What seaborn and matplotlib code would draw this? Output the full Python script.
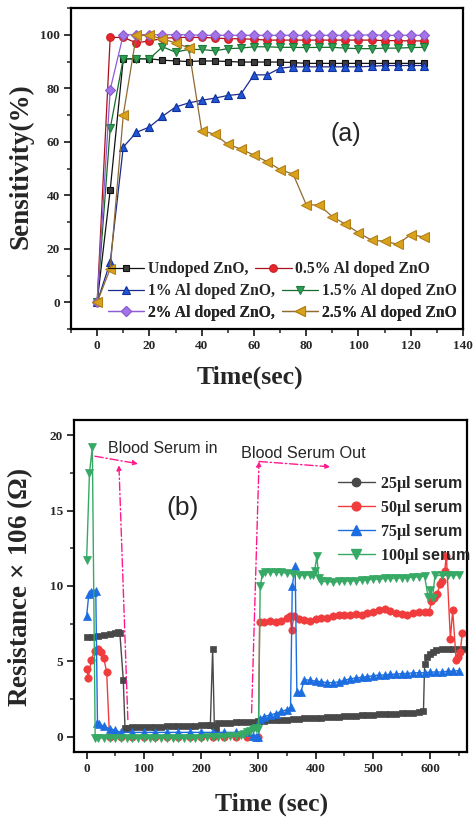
import matplotlib
matplotlib.use("Agg")
import matplotlib.pyplot as plt
from matplotlib.lines import Line2D
from matplotlib.ticker import MultipleLocator
from matplotlib.font_manager import FontProperties
import pandas as pd
import seaborn as sns

sns.set_style("ticks")
plt.rcParams["font.family"] = ["Liberation Serif", "DejaVu Serif"]
plt.rcParams["font.weight"] = "bold"
plt.rcParams["mathtext.fontset"] = "custom"
plt.rcParams["mathtext.rm"] = "Liberation Serif"
plt.rcParams["mathtext.it"] = "Liberation Serif:italic"
plt.rcParams["mathtext.bf"] = "Liberation Serif:bold"
plt.rcParams["mathtext.sf"] = "Liberation Sans:bold"

# ---------------- (a) sensitivity vs time ----------------
time_a = [0, 5, 10, 15, 20, 25, 30, 35, 40, 45, 50, 55, 60, 65, 70, 75, 80,
          85, 90, 95, 100, 105, 110, 115, 120, 125]
undoped = [0, 42, 91, 91, 91, 90.5, 90.2, 90, 90.2, 90.2, 90, 89.8, 89.8, 89.8,
           89.8, 89.6, 89.3, 89.3, 89.3, 89.3, 89.3, 89.3, 89.3, 89.3, 89.3, 89.3]
al_05 = [0, 99, 99, 97, 97.7, 98.6, 99, 99, 99, 98.8, 98.5, 98.5, 98.3, 98, 98,
         98, 98, 98, 98, 98, 98, 98, 97.8, 97.8, 97.7, 97.7]
al_10 = [0, 15, 58, 63.5, 65.5, 69.5, 73, 74.5, 75.5, 76.3, 77.3, 77.8, 85, 85,
         87.5, 88, 88, 88, 88, 88, 88, 88.2, 88.5, 88.5, 88.5, 88.5]
al_15 = [0, 65, 91, 91, 91, 95.5, 93.5, 94.5, 94.5, 94, 94.8, 95, 95.5, 95.5,
         95.3, 95.3, 95.2, 95.3, 95.3, 95, 94.8, 94.8, 95, 95, 95.2, 95.3]
al_20 = [0, 79.5, 100, 100, 100, 100, 100, 100, 99.8, 99.8, 99.8, 99.8, 99.8,
         99.8, 99.8, 99.8, 99.8, 99.8, 99.8, 99.8, 99.8, 100, 99.8, 99.8, 99.8, 99.8]
al_25 = [0, 12.5, 70, 99.8, 99.8, 98.4, 97, 95.1, 64.2, 62.8, 59, 57.3, 55, 52.6,
         49.6, 47.9, 36.5, 36.3, 32, 29.2, 26, 23.2, 22.8, 21.7, 25.3, 24.4]
labels_a = ["Undoped ZnO,", "0.5% Al doped ZnO", "1% Al doped ZnO,",
            "1.5% Al doped ZnO", "2% Al doped ZnO,", "2.5% Al doped ZnO"]

# ---------------- (b) resistance vs time ----------------
t_25 = [0, 10, 20, 30, 40, 50, 55, 58, 64, 67, 70, 80, 90, 100, 110, 120, 130,
        140, 150, 160, 170, 180, 190, 200, 210, 216, 220, 223, 226, 230, 240,
        250, 260, 270, 280, 290, 300, 310, 320, 330, 340, 350, 360, 370, 380,
        390, 400, 410, 420, 430, 440, 450, 460, 470, 480, 490, 500, 510, 520,
        530, 540, 550, 560, 570, 580, 588, 590, 595, 600, 605, 610, 620, 630,
        640, 650, 657]
r_25 = [6.6, 6.65, 6.7, 6.75, 6.8, 6.9, 6.95, 6.9, 3.8, 0.6, 0.62, 0.63, 0.64,
        0.65, 0.66, 0.67, 0.68, 0.69, 0.7, 0.71, 0.72, 0.73, 0.74, 0.76, 0.78,
        0.8, 5.8, 0.7, 0.5, 0.9, 0.92, 0.94, 0.96, 0.98, 1.0, 1.02, 1.05, 1.07,
        1.09, 1.11, 1.13, 1.15, 1.17, 1.2, 1.22, 1.24, 1.26, 1.28, 1.3, 1.32,
        1.34, 1.36, 1.38, 1.4, 1.42, 1.45, 1.47, 1.49, 1.51, 1.53, 1.55, 1.57,
        1.59, 1.61, 1.63, 1.7, 4.8, 5.3, 5.5, 5.65, 5.75, 5.85, 5.85, 5.8, 5.8,
        5.8]
t_50 = [0, 3, 8, 14, 20, 25, 30, 35, 40, 60, 80, 100, 120, 140, 160, 180, 200,
        220, 240, 260, 280, 300, 302, 310, 320, 330, 340, 350, 355, 358, 362,
        370, 380, 390, 400, 410, 420, 430, 440, 450, 460, 470, 480, 490, 500,
        510, 520, 530, 540, 550, 560, 570, 580, 590, 598, 602, 607, 612, 617,
        621, 625, 628, 635, 639, 645, 648, 652, 656]
r_50 = [4.5, 3.9, 5.1, 5.7, 5.8, 5.6, 5.2, 4.3, 0.0, 0.0, 0.0, 0.0, 0.0, 0.0,
        0.0, 0.0, 0.0, 0.0, 0.0, 0.0, 0.0, 0.0, 7.6, 7.6, 7.65, 7.6, 7.7, 7.9,
        8.0, 7.1, 8.0, 7.8, 7.75, 7.7, 7.8, 7.85, 7.9, 8.0, 8.05, 8.1, 8.1,
        8.15, 8.1, 8.2, 8.3, 8.4, 8.45, 8.35, 8.2, 8.15, 8.1, 8.2, 8.25, 8.3,
        8.3, 9.0, 9.2, 9.5, 10.1, 10.3, 11.0, 12.0, 6.5, 8.4, 5.1, 5.3, 5.6, 6.9]
t_75 = [0, 4, 8, 12, 16, 19, 22, 30, 40, 50, 60, 80, 100, 120, 140, 160, 180,
        200, 220, 240, 260, 280, 290, 295, 300, 302, 310, 320, 330, 340, 350,
        356, 359, 364, 367, 374, 380, 390, 400, 410, 420, 430, 440, 450, 460,
        470, 480, 490, 500, 510, 520, 530, 540, 550, 560, 570, 580, 590, 600,
        610, 620, 630, 640, 650]
r_75 = [8.0, 9.5, 9.6, 9.6, 9.7, 0.9, 0.85, 0.7, 0.55, 0.45, 0.3, 0.3, 0.3,
        0.3, 0.3, 0.3, 0.3, 0.3, 0.3, 0.3, 0.3, 0.3, 0.05, 0.0, 0.0, 1.2, 1.35,
        1.45, 1.55, 1.7, 1.8, 1.95, 10.0, 11.3, 3.0, 2.95, 3.8, 3.75, 3.7, 3.65,
        3.6, 3.6, 3.65, 3.75, 3.85, 3.9, 3.95, 4.0, 4.05, 4.1, 4.1, 4.15, 4.15,
        4.2, 4.2, 4.25, 4.25, 4.25, 4.3, 4.3, 4.3, 4.35, 4.35, 4.4]
t_100 = [0, 5, 10, 15, 20, 30, 40, 50, 60, 70, 80, 90, 100, 110, 120, 130, 140,
         150, 160, 170, 180, 190, 200, 210, 220, 230, 240, 250, 260, 270, 275,
         280, 285, 290, 295, 300, 303, 307, 312, 320, 330, 340, 350, 360, 370,
         380, 390, 395, 398, 402, 405, 410, 420, 430, 440, 450, 460, 470, 480,
         490, 500, 510, 520, 530, 540, 550, 560, 570, 580, 590, 596, 600, 604,
         608, 620, 630, 640, 650]
r_100 = [11.7, 17.5, 19.2, -0.1, -0.1, -0.05, -0.1, -0.05, -0.1, -0.05, -0.1,
         -0.1, -0.05, -0.1, -0.05, -0.1, -0.05, -0.1, -0.05, -0.1, -0.05, -0.05,
         -0.05, 0.0, 0.0, 0.0, 0.0, 0.05, 0.05, 0.1, 0.2, 0.3, 0.4, 0.55, 0.6,
         0.5, 10.0, 10.8, 10.9, 10.95, 10.9, 10.9, 10.85, 10.8, 10.75, 10.7,
         10.75, 10.7, 11.0, 12.0, 10.5, 10.3, 10.3, 10.25, 10.3, 10.3, 10.35,
         10.35, 10.4, 10.4, 10.45, 10.45, 10.5, 10.5, 10.5, 10.55, 10.55, 10.6,
         10.6, 10.65, 9.3, 9.75, 9.2, 10.7, 10.7, 10.7, 10.7, 10.75]
labels_b = ["25µl $\\mathsf{serum}$", "50µl $\\mathsf{serum}$",
            "75µl $\\mathsf{serum}$", "100µl $\\mathsf{serum}$"]

fig = plt.figure(figsize=(4.76, 8.18), dpi=100)
ax_a = fig.add_axes([71 / 476, 1 - 329 / 818, 392 / 476, 321 / 818])
ax_b = fig.add_axes([74 / 476, 1 - 752 / 818, 393 / 476, 332 / 818])

styles_a = [
    dict(marker="s", ms=5, mfc="#3c3c3c", mec="#111111", color="#111111"),
    dict(marker="o", ms=5.5, mfc="#e8262b", mec="#c81e24", color="#a8101a"),
    dict(marker="^", ms=6, mfc="#1f56d6", mec="#12309a", color="#1b2a8c"),
    dict(marker="v", ms=6, mfc="#2f9e52", mec="#1f7a3c", color="#146b2c"),
    dict(marker="D", ms=5.2, mfc="#a374e8", mec="#8a5ad0", color="#8e5bd6"),
    dict(marker="<", ms=6.5, mfc="#d9a21c", mec="#b38016", color="#8f6a33"),
]
series_a = [undoped, al_05, al_10, al_15, al_20, al_25]
for vals, st in zip(series_a, styles_a):
    df = pd.DataFrame({"t": time_a, "s": vals})
    sns.lineplot(data=df, x="t", y="s", ax=ax_a, sort=False, estimator=None,
                 marker=st["marker"], markersize=st["ms"],
                 markerfacecolor=st["mfc"], markeredgecolor=st["mec"],
                 markeredgewidth=0.8, color=st["color"], linewidth=0.9)

styles_b = [
    dict(marker="s", leg="o", ms=5, color="#484848"),
    dict(marker="o", leg="o", ms=5.3, color="#f03c3c"),
    dict(marker="^", leg="^", ms=5.6, color="#1c6ee0"),
    dict(marker="v", leg="v", ms=6, color="#36a965"),
]
series_b = [(t_25, r_25), (t_50, r_50), (t_75, r_75), (t_100, r_100)]
for (tt, rr), st in zip(series_b, styles_b):
    df = pd.DataFrame({"t": tt, "r": rr})
    sns.lineplot(data=df, x="t", y="r", ax=ax_b, sort=False, estimator=None,
                 marker=st["marker"], markersize=st["ms"],
                 markerfacecolor=st["color"], markeredgecolor=st["color"],
                 markeredgewidth=0.5, color=st["color"], linewidth=1.0)

tick_font = 9.5
for ax in (ax_a, ax_b):
    for sp in ax.spines.values():
        sp.set_visible(True)
        sp.set_linewidth(1.6)
        sp.set_color("black")
    ax.tick_params(which="major", direction="out", length=5, width=1.3,
                   labelsize=tick_font, top=False, right=False, pad=3)
    ax.tick_params(which="minor", direction="out", length=3, width=1.1,
                   top=False, right=False)
    for lbl in ax.get_xticklabels() + ax.get_yticklabels():
        lbl.set_fontweight("bold")

# axes (a)
ax_a.set_xlim(-10, 140)
ax_a.set_ylim(-10, 110)
ax_a.xaxis.set_major_locator(MultipleLocator(20))
ax_a.xaxis.set_minor_locator(MultipleLocator(10))
ax_a.yaxis.set_major_locator(MultipleLocator(20))
ax_a.yaxis.set_minor_locator(MultipleLocator(10))
ax_a.set_xlabel("Time(sec)", fontsize=18.5, fontweight="bold")
ax_a.set_ylabel("Sensitivity(%)", fontsize=19.5, fontweight="bold")
ax_a.xaxis.set_label_coords(0.457, -0.115)
ax_a.yaxis.set_label_coords(-0.095, 0.506)
ax_a.text(95, 62.8, "(a)", fontsize=18, fontweight="normal",
          family="Liberation Sans", ha="center", va="center")

leg_font = FontProperties(family="Liberation Serif", weight="bold", size=11.3)
row_y = [0.186, 0.118, 0.051]
for i, y in enumerate(row_y):
    handles = []
    for st in styles_a[2 * i:2 * i + 2]:
        handles.append(Line2D([], [], marker=st["marker"], markersize=st["ms"],
                              markerfacecolor=st["mfc"], markeredgecolor=st["mec"],
                              markeredgewidth=0.8, color=st["color"], lw=0.9))
    leg = ax_a.legend(handles, labels_a[2 * i:2 * i + 2], ncol=2,
                      loc="center left", bbox_to_anchor=(0.094, y),
                      frameon=False, borderpad=0, borderaxespad=0,
                      handlelength=2.3, handletextpad=0.25, columnspacing=0.45,
                      prop=leg_font)
    ax_a.add_artist(leg)

# axes (b)
ax_b.set_xlim(-22, 664)
ax_b.set_ylim(-1, 21)
ax_b.xaxis.set_major_locator(MultipleLocator(100))
ax_b.xaxis.set_minor_locator(MultipleLocator(50))
ax_b.yaxis.set_major_locator(MultipleLocator(5))
ax_b.yaxis.set_minor_locator(MultipleLocator(2.5))
ax_b.set_xlabel("Time (sec)", fontsize=18.5, fontweight="bold")
ax_b.set_ylabel("Resistance × 106 $\\mathrm{(\\Omega)}$", fontsize=19.5,
                fontweight="bold")
ax_b.xaxis.set_label_coords(0.5025, -0.122)
ax_b.yaxis.set_label_coords(-0.1, 0.497)
ax_b.text(168, 15.2, "(b)", fontsize=19, fontweight="normal",
          family="Liberation Sans", ha="center", va="center")
ax_b.text(37, 18.8, "Blood Serum in", fontsize=11.5, fontweight="normal",
          family="Liberation Sans", color="#262626", ha="left", va="baseline")
ax_b.text(269, 18.5, "Blood Serum Out", fontsize=11.7, fontweight="normal",
          family="Liberation Sans", color="#262626", ha="left", va="baseline")

arrow_kw = dict(arrowstyle="-|>", linestyle=(0, (6, 2, 1, 2)), color="#ff1a8c",
                lw=1.0, mutation_scale=7, shrinkA=0, shrinkB=0)
ax_b.annotate("", xy=(89.5, 18.1), xytext=(14.5, 18.6), arrowprops=arrow_kw)
ax_b.annotate("", xy=(56.4, 18.0), xytext=(72, 1.15), arrowprops=arrow_kw)
ax_b.annotate("", xy=(301, 18.25), xytext=(288, 1.6), arrowprops=arrow_kw)
ax_b.annotate("", xy=(425, 17.9), xytext=(301, 18.25), arrowprops=arrow_kw)

handles_b = [Line2D([], [], marker=st["leg"], markersize=st["ms"] + 1,
                    markerfacecolor=st["color"], markeredgecolor=st["color"],
                    color=st["color"], lw=1.0) for st in styles_b]
ax_b.legend(handles_b, labels_b, loc="center left", bbox_to_anchor=(0.672, 0.700),
            frameon=False, borderpad=0, borderaxespad=0, handlelength=2.3,
            handletextpad=0.3, labelspacing=0.25,
            prop=FontProperties(family="Liberation Serif", weight="bold", size=11.5))

fig.savefig("out.png", dpi=100)
